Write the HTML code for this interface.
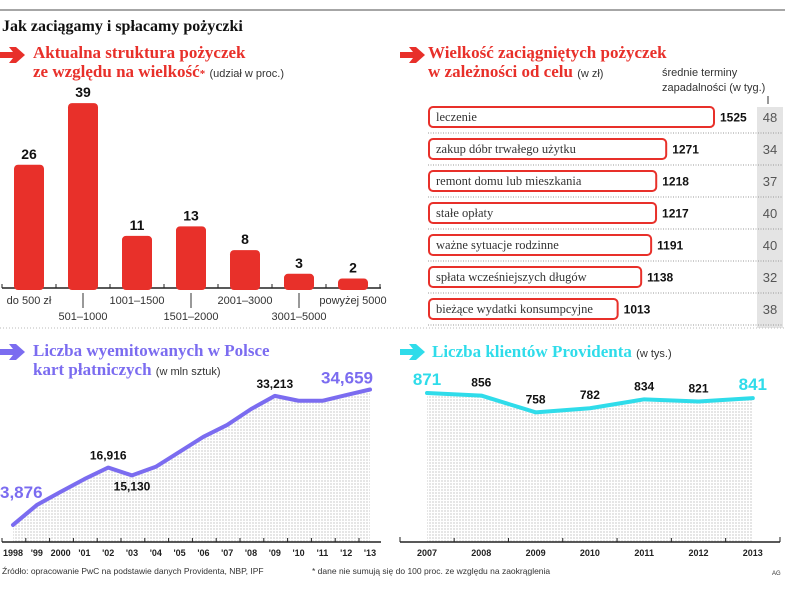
<!DOCTYPE html>
<html><head><meta charset="utf-8"><style>
body{margin:0;background:#fff}
svg{display:block}
.hd{font-family:"Liberation Serif",serif;font-weight:bold}
.sm{font-family:"Liberation Sans",sans-serif}
.num{font-family:"Liberation Sans",sans-serif;font-weight:bold}
</style></head><body>
<svg id="s" width="805" height="590" xmlns="http://www.w3.org/2000/svg">
<defs>
<pattern id="dots" width="3" height="3" patternUnits="userSpaceOnUse"><rect width="3" height="3" fill="#fff"/><rect width="2" height="2" fill="#e6e6e6"/></pattern>
<symbol id="arr" viewBox="0 0 26 18"><polygon points="0,6 13,6 9,1 16,1 25,9 16,17 9,17 13,12 0,12"/></symbol>
</defs>
<line x1="0" y1="10" x2="785" y2="10" stroke="#888" stroke-width="1.5"/>
<text x="2" y="31" class="hd" font-size="16" fill="#111">Jak zaciągamy i spłacamy pożyczki</text>

<use href="#arr" x="0" y="46" width="26" height="18" fill="#e8302a"/>
<text x="33" y="58" class="hd" font-size="17" fill="#e8302a">Aktualna struktura pożyczek</text>
<text x="33" y="77" class="hd" font-size="17" fill="#e8302a">ze względu na wielkość<tspan font-size="11">*</tspan> <tspan class="sm" font-weight="normal" font-size="11" fill="#333">(udział w proc.)</tspan></text>
<g id="bars"></g>

<use href="#arr" x="400" y="46" width="26" height="18" fill="#e8302a"/>
<text x="428" y="58" class="hd" font-size="17" fill="#e8302a">Wielkość zaciągniętych pożyczek</text>
<text x="428" y="77" class="hd" font-size="17" fill="#e8302a">w zależności od celu <tspan class="sm" font-weight="normal" font-size="11" fill="#333">(w zł)</tspan></text>
<text x="662" y="76" class="sm" font-size="11" fill="#333">średnie terminy</text>
<text x="662" y="91" class="sm" font-size="11" fill="#333">zapadalności (w tyg.)</text>
<line x1="768" y1="96" x2="768" y2="104" stroke="#333"/>
<rect x="757" y="107" width="26" height="221" fill="#e4e4e4"/>
<g id="purp"></g>

<line x1="0" y1="328" x2="785" y2="328" stroke="#bbb" stroke-dasharray="1,2"/>

<use href="#arr" x="0" y="343" width="26" height="18" fill="#7b6cf0"/>
<text x="33" y="356" class="hd" font-size="17" fill="#7b6cf0">Liczba wyemitowanych w Polsce</text>
<text x="33" y="375" class="hd" font-size="17" fill="#7b6cf0">kart płatniczych <tspan class="sm" font-weight="normal" font-size="11" fill="#333">(w mln sztuk)</tspan></text>
<g id="cards"></g>

<use href="#arr" x="400" y="343" width="26" height="18" fill="#2fdcea"/>
<text x="432" y="357" class="hd" font-size="17" fill="#2fdcea">Liczba klientów Providenta <tspan class="sm" font-weight="normal" font-size="11" fill="#333">(w tys.)</tspan></text>
<g id="clients"></g>

<text x="2" y="574" class="sm" font-size="8.5" fill="#333">Źródło: opracowanie PwC na podstawie danych Providenta, NBP, IPF</text>
<text x="312" y="574" class="sm" font-size="8.5" fill="#333">* dane nie sumują się do 100 proc. ze względu na zaokrąglenia</text>
<text x="772" y="575" class="sm" font-size="6" fill="#333">AG</text>
</svg>
<script>
const barCats=["do 500 zł","501–1000","1001–1500","1501–2000","2001–3000","3001–5000","powyżej 5000"];
const barVals=[26,39,11,13,8,3,2];
const purposes=["leczenie","zakup dóbr trwałego użytku","remont domu lub mieszkania","stałe opłaty","ważne sytuacje rodzinne","spłata wcześniejszych długów","bieżące wydatki konsumpcyjne"];
const amounts=[1525,1271,1218,1217,1191,1138,1013];
const terms=[48,34,37,40,40,32,38];
const cardYears=["1998","'99","2000","'01","'02","'03","'04","'05","'06","'07","'08","'09","'10","'11","'12","'13"];
const cards=[3.876,8.4,11.4,14.3,16.916,15.130,17.1,20.5,23.9,26.6,30.2,33.213,32.1,32.1,33.4,34.659];
const cardLabels={0:"3,876",4:"16,916",5:"15,130",11:"33,213",15:"34,659"};
const clientYears=["2007","2008","2009","2010","2011","2012","2013"];
const clients=[871,856,758,782,834,821,841];

const NS="http://www.w3.org/2000/svg";
function mk(p,t,a,txt){const e=document.createElementNS(NS,t);for(const k in a)e.setAttribute(k,a[k]);if(txt!==undefined)e.textContent=txt;p.appendChild(e);return e;}

(function(){
const g=document.getElementById('bars');
const base=288, sc=4.74, x0=2, step=54, bw=30;
const bx=i=>x0+12+i*step;
const by=v=>base-v*sc;
const ax=mk(g,'line',{x1:2,y1:base,x2:381,y2:base,stroke:'#222','stroke-width':1.5});

for(let i=0;i<=7;i++){const t=mk(g,'line',{x1:x0+i*step,y1:base-4,x2:x0+i*step,y2:base,stroke:'#222'});
}
barVals.forEach((v,i)=>{
const r=mk(g,'rect',{x:bx(i),y:by(v),width:bw,height:v*sc+2,rx:4,fill:'#e8302a'});

const l=mk(g,'text',{x:bx(i)+bw/2,y:by(v)-6,'text-anchor':'middle',class:'num','font-size':'14',fill:'#111'},String(v));

const odd=i%2===1;
const c=mk(g,'text',{x:bx(i)+bw/2,y:odd?320:304,'text-anchor':'middle',class:'sm','font-size':'11',fill:'#333'},barCats[i]);

if(odd){const a=mk(g,'line',{x1:bx(i)+bw/2,y1:293,x2:bx(i)+bw/2,y2:308,stroke:'#333'});
}
});
})();

(function(){
const g=document.getElementById('purp');
const x0=428, sc=287/1525, y0=117, step=32;
amounts.forEach((v,i)=>{
const cy=y0+i*step;
const r=mk(g,'rect',{x:x0+1,y:cy-10,width:v*sc-2,height:20,rx:4,fill:'#fff',stroke:'#e8302a','stroke-width':2});

const t=mk(g,'text',{x:x0+8,y:cy+4,'font-family':'Liberation Serif, serif','font-size':'12.5',fill:'#333'},purposes[i]);

const n=mk(g,'text',{x:x0+v*sc+5,y:cy+4.5,class:'num','font-size':'12',fill:'#111'},String(v));

const tm=mk(g,'text',{x:770,y:cy+5,'text-anchor':'middle',class:'sm','font-size':'13',fill:'#555'},String(terms[i]));

const d=mk(g,'line',{x1:x0,y1:cy+16,x2:783,y2:cy+16,stroke:'#999','stroke-dasharray':'1,1.5'});

});
})();

(function(){
const g=document.getElementById('cards');
const base=542, sc=4.4, x0=13, step=23.8;
const X=i=>x0+i*step, Y=v=>base-v*sc;
let pts=cards.map((v,i)=>X(i)+','+Y(v)).join(' ');
const a=mk(g,'polygon',{points:pts+' '+X(cards.length-1)+','+base+' '+X(0)+','+base,fill:'url(#dots)'});

const ax=mk(g,'line',{x1:2,y1:base,x2:381,y2:base,stroke:'#222','stroke-width':1.5});

cardYears.forEach((y,i)=>{
const t=mk(g,'line',{x1:X(i)-11,y1:base-4,x2:X(i)-11,y2:base,stroke:'#222'});

const l=mk(g,'text',{x:X(i),y:556,'text-anchor':'middle',class:'num','font-size':'9',fill:'#222'},y);

});
const ln=mk(g,'polyline',{points:pts,fill:'none',stroke:'#7b6cf0','stroke-width':4,'stroke-linejoin':'round','stroke-linecap':'round'});

for(const k in cardLabels){const i=+k,v=cards[i];
let x=X(i),y=Y(v)-8,anc='middle',col='#111',fs=12;
if(i===0){x=0;y=Y(v)-27;anc='start';col='#7b6cf0';fs=17;}
if(i===5){y=Y(v)+15;}
if(i===15){x=X(i)+3;y=Y(v)-6;anc='end';col='#7b6cf0';fs=17;}
const t=mk(g,'text',{x:x,y:y,'text-anchor':anc,class:'num','font-size':fs,fill:col},cardLabels[k]);
}
})();

(function(){
const g=document.getElementById('clients');
const base=542, sc=149/871, x0=427, step=54.3;
const X=i=>x0+i*step, Y=v=>base-v*sc;
let pts=clients.map((v,i)=>X(i)+','+Y(v)).join(' ');
const a=mk(g,'polygon',{points:pts+' '+X(clients.length-1)+','+base+' '+X(0)+','+base,fill:'url(#dots)'});

const ax=mk(g,'line',{x1:400,y1:base,x2:780,y2:base,stroke:'#222','stroke-width':1.5});

[400,780].forEach(x=>{const t=mk(g,'line',{x1:x,y1:base-5,x2:x,y2:base,stroke:'#222'});
});
clientYears.forEach((y,i)=>{
if(i>0){const t=mk(g,'line',{x1:X(i)-step/2,y1:base-4,x2:X(i)-step/2,y2:base,stroke:'#222'});
}
const l=mk(g,'text',{x:X(i),y:556,'text-anchor':'middle',class:'num','font-size':'9',fill:'#222'},y);

});
const ln=mk(g,'polyline',{points:pts,fill:'none',stroke:'#2fdcea','stroke-width':4,'stroke-linejoin':'round','stroke-linecap':'round'});

clients.forEach((v,i)=>{
const edge=(i===0||i===clients.length-1);
const t=mk(g,'text',{x:X(i),y:Y(v)-(edge?8:9),'text-anchor':'middle',class:'num','font-size':edge?17:12,fill:edge?'#2fdcea':'#111'},String(v));

});
})();
</script>
</body></html>
